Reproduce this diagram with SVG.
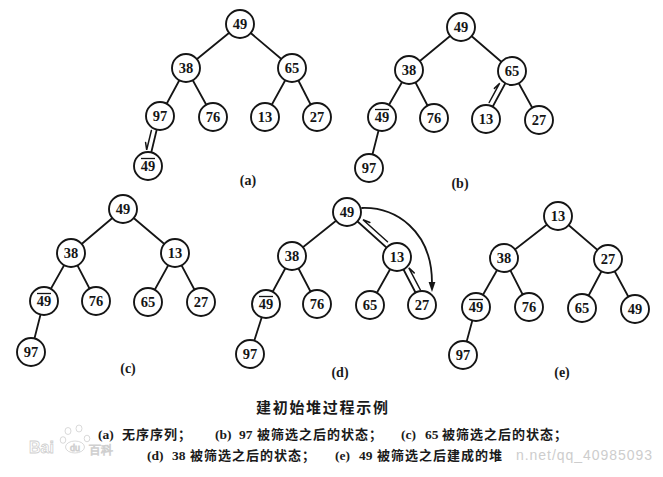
<svg xmlns="http://www.w3.org/2000/svg" width="663" height="477" viewBox="0 0 663 477">
<style>
.bg{fill:#ffffff}
.edge{stroke:#151515;stroke-width:1.8;fill:none;stroke-linecap:round}
.harp{stroke:#151515;stroke-width:1.5;fill:none;stroke-linecap:round}
.node circle{fill:#ffffff;stroke:#151515;stroke-width:1.9}
.node text{font-family:"Liberation Serif","DejaVu Serif",serif;font-weight:bold;font-size:14.5px;text-anchor:middle;fill:#151515}
.bar{stroke:#151515;stroke-width:1.3}
.lbl{font-family:"Liberation Serif","DejaVu Serif",serif;font-weight:bold;font-size:14px;text-anchor:middle;fill:#1a1a1a}
.title{font-family:"Noto Sans CJK SC","Noto Sans CJK JP",sans-serif;font-weight:bold;font-size:15px;letter-spacing:1.7px;fill:#1a1a1a}
.cap{font-family:"Liberation Serif","Noto Sans CJK SC",serif;font-weight:bold;font-size:13.5px;fill:#1a1a1a}
.cjk{font-family:"Noto Sans CJK SC","Noto Sans CJK JP",sans-serif;font-weight:bold;font-size:13px;letter-spacing:1px}
.wm{font-family:"Liberation Sans","DejaVu Sans",sans-serif;fill:none;stroke:#cfcfcf;stroke-width:0.8}
.wm2{font-family:"Liberation Sans","DejaVu Sans",sans-serif;font-size:14px;fill:#cdcdcd}
</style>
<rect class="bg" x="0" y="0" width="663" height="477"/>

<g id="watermark-baidu">
<text class="wm" x="29" y="453" font-size="16" font-weight="bold">Bai</text>
<ellipse class="wm" cx="68" cy="431" rx="3" ry="3.5"/>
<ellipse class="wm" cx="79" cy="428.5" rx="3" ry="3.5"/>
<ellipse class="wm" cx="63" cy="440" rx="2.8" ry="3.3"/>
<ellipse class="wm" cx="87" cy="438.5" rx="2.8" ry="3.3"/>
<ellipse class="wm" cx="75" cy="447" rx="9.5" ry="6"/>
<text class="wm" x="75" y="450.5" font-size="9" text-anchor="middle">du</text>
<text class="wm" x="89" y="454" font-size="12" font-family="Noto Sans CJK SC,sans-serif">百科</text>
</g>

<g id="connectors">
<!-- (a) -->
<line class="edge" x1="240" y1="24" x2="186" y2="68"/>
<line class="edge" x1="240" y1="24" x2="292" y2="68"/>
<line class="edge" x1="186" y1="68" x2="160" y2="116"/>
<line class="edge" x1="186" y1="68" x2="213" y2="117"/>
<line class="edge" x1="292" y1="68" x2="265" y2="117"/>
<line class="edge" x1="292" y1="68" x2="317" y2="117"/>
<line class="edge" x1="160" y1="116" x2="148" y2="166"/>
<path class="harp" d="M151.4,130.4 L146.7,149.8 L145.6,142.6"/>
<!-- (b) -->
<line class="edge" x1="461" y1="27" x2="409" y2="70"/>
<line class="edge" x1="461" y1="27" x2="512" y2="71"/>
<line class="edge" x1="409" y1="70" x2="382" y2="117"/>
<line class="edge" x1="409" y1="70" x2="434" y2="118"/>
<line class="edge" x1="512" y1="71" x2="486" y2="119"/>
<line class="edge" x1="512" y1="71" x2="539" y2="120"/>
<line class="edge" x1="382" y1="117" x2="369" y2="168"/>
<path class="harp" d="M489.2,102.5 L499.7,83.2 L494.4,88.4"/>
<!-- (c) -->
<line class="edge" x1="123" y1="209" x2="71" y2="253"/>
<line class="edge" x1="123" y1="209" x2="175" y2="253"/>
<line class="edge" x1="71" y1="253" x2="44" y2="301"/>
<line class="edge" x1="71" y1="253" x2="96" y2="301"/>
<line class="edge" x1="175" y1="253" x2="148" y2="302"/>
<line class="edge" x1="175" y1="253" x2="201" y2="302"/>
<line class="edge" x1="44" y1="301" x2="31" y2="352"/>
<!-- (d) -->
<line class="edge" x1="347" y1="212" x2="292" y2="256"/>
<line class="edge" x1="347" y1="212" x2="397" y2="257"/>
<line class="edge" x1="292" y1="256" x2="266" y2="304"/>
<line class="edge" x1="292" y1="256" x2="317" y2="304"/>
<line class="edge" x1="397" y1="257" x2="370" y2="305"/>
<line class="edge" x1="397" y1="257" x2="422" y2="305"/>
<line class="edge" x1="266" y1="304" x2="250" y2="354"/>
<path class="harp" d="M387.5,241.8 L363,219.7 L369.9,222.5"/>
<path class="harp" d="M420.4,290 L408.8,267.8 L414.2,272.9"/>
<path class="edge" d="M362,208 C395,207 432,230 432,283"/>
<polygon points="432,292 428.6,282 435.4,282" fill="#151515"/>
<!-- (e) -->
<line class="edge" x1="558" y1="216" x2="504" y2="258"/>
<line class="edge" x1="558" y1="216" x2="608" y2="259"/>
<line class="edge" x1="504" y1="258" x2="476" y2="307"/>
<line class="edge" x1="504" y1="258" x2="529" y2="307"/>
<line class="edge" x1="608" y1="259" x2="582" y2="308"/>
<line class="edge" x1="608" y1="259" x2="635" y2="309"/>
<line class="edge" x1="476" y1="307" x2="463" y2="355"/>
</g>

<!-- panel (a) -->
<g id="a-49" class="node"><circle cx="240" cy="24" r="14"/><text x="240" y="29">49</text></g>
<g id="a-38" class="node"><circle cx="186" cy="68" r="14"/><text x="186" y="73">38</text></g>
<g id="a-65" class="node"><circle cx="292" cy="68" r="14"/><text x="292" y="73">65</text></g>
<g id="a-97" class="node"><circle cx="160" cy="116" r="14"/><text x="160" y="121">97</text></g>
<g id="a-76" class="node"><circle cx="213" cy="117" r="14"/><text x="213" y="122">76</text></g>
<g id="a-13" class="node"><circle cx="265" cy="117" r="14"/><text x="265" y="122">13</text></g>
<g id="a-27" class="node"><circle cx="317" cy="117" r="14"/><text x="317" y="122">27</text></g>
<g id="a-49bar" class="node"><circle cx="148" cy="166" r="14"/><text x="148" y="171">49</text><line class="bar" x1="141" y1="158.5" x2="155" y2="158.5"/></g>
<text class="lbl" x="248" y="185">(a)</text>

<!-- panel (b) -->
<g id="b-49" class="node"><circle cx="461" cy="27" r="14"/><text x="461" y="32">49</text></g>
<g id="b-38" class="node"><circle cx="409" cy="70" r="14"/><text x="409" y="75">38</text></g>
<g id="b-65" class="node"><circle cx="512" cy="71" r="14"/><text x="512" y="76">65</text></g>
<g id="b-49bar" class="node"><circle cx="382" cy="117" r="14"/><text x="382" y="122">49</text><line class="bar" x1="375" y1="109.5" x2="389" y2="109.5"/></g>
<g id="b-76" class="node"><circle cx="434" cy="118" r="14"/><text x="434" y="123">76</text></g>
<g id="b-13" class="node"><circle cx="486" cy="119" r="14"/><text x="486" y="124">13</text></g>
<g id="b-27" class="node"><circle cx="539" cy="120" r="14"/><text x="539" y="125">27</text></g>
<g id="b-97" class="node"><circle cx="369" cy="168" r="14"/><text x="369" y="173">97</text></g>
<text class="lbl" x="460" y="188">(b)</text>

<!-- panel (c) -->
<g id="c-49" class="node"><circle cx="123" cy="209" r="14"/><text x="123" y="214">49</text></g>
<g id="c-38" class="node"><circle cx="71" cy="253" r="14"/><text x="71" y="258">38</text></g>
<g id="c-13" class="node"><circle cx="175" cy="253" r="14"/><text x="175" y="258">13</text></g>
<g id="c-49bar" class="node"><circle cx="44" cy="301" r="14"/><text x="44" y="306">49</text><line class="bar" x1="37" y1="293.5" x2="51" y2="293.5"/></g>
<g id="c-76" class="node"><circle cx="96" cy="301" r="14"/><text x="96" y="306">76</text></g>
<g id="c-65" class="node"><circle cx="148" cy="302" r="14"/><text x="148" y="307">65</text></g>
<g id="c-27" class="node"><circle cx="201" cy="302" r="14"/><text x="201" y="307">27</text></g>
<g id="c-97" class="node"><circle cx="31" cy="352" r="14"/><text x="31" y="357">97</text></g>
<text class="lbl" x="128" y="373">(c)</text>

<!-- panel (d) -->
<g id="d-49" class="node"><circle cx="347" cy="212" r="14"/><text x="347" y="217">49</text></g>
<g id="d-38" class="node"><circle cx="292" cy="256" r="14"/><text x="292" y="261">38</text></g>
<g id="d-13" class="node"><circle cx="397" cy="257" r="14"/><text x="397" y="262">13</text></g>
<g id="d-49bar" class="node"><circle cx="266" cy="304" r="14"/><text x="266" y="309">49</text><line class="bar" x1="259" y1="296.5" x2="273" y2="296.5"/></g>
<g id="d-76" class="node"><circle cx="317" cy="304" r="14"/><text x="317" y="309">76</text></g>
<g id="d-65" class="node"><circle cx="370" cy="305" r="14"/><text x="370" y="310">65</text></g>
<g id="d-27" class="node"><circle cx="422" cy="305" r="14"/><text x="422" y="310">27</text></g>
<g id="d-97" class="node"><circle cx="250" cy="354" r="14"/><text x="250" y="359">97</text></g>
<text class="lbl" x="340" y="377">(d)</text>

<!-- panel (e) -->
<g id="e-13" class="node"><circle cx="558" cy="216" r="14"/><text x="558" y="221">13</text></g>
<g id="e-38" class="node"><circle cx="504" cy="258" r="14"/><text x="504" y="263">38</text></g>
<g id="e-27" class="node"><circle cx="608" cy="259" r="14"/><text x="608" y="264">27</text></g>
<g id="e-49bar" class="node"><circle cx="476" cy="307" r="14"/><text x="476" y="312">49</text><line class="bar" x1="469" y1="299.5" x2="483" y2="299.5"/></g>
<g id="e-76" class="node"><circle cx="529" cy="307" r="14"/><text x="529" y="312">76</text></g>
<g id="e-65" class="node"><circle cx="582" cy="308" r="14"/><text x="582" y="313">65</text></g>
<g id="e-49" class="node"><circle cx="635" cy="309" r="14"/><text x="635" y="314">49</text></g>
<g id="e-97" class="node"><circle cx="463" cy="355" r="14"/><text x="463" y="360">97</text></g>
<text class="lbl" x="562" y="377">(e)</text>

<g id="caption">
<text class="title" x="256" y="413">建初始堆过程示例</text>
<text class="cap" y="438.5"><tspan x="98">(a)</tspan><tspan class="cjk" x="122">无序序列；</tspan><tspan x="215">(b)</tspan><tspan x="239">97</tspan><tspan class="cjk" x="257">被筛选之后的状态；</tspan><tspan x="401">(c)</tspan><tspan x="425">65</tspan><tspan class="cjk" x="442">被筛选之后的状态；</tspan></text>
<text class="cap" y="460"><tspan x="147">(d)</tspan><tspan x="172">38</tspan><tspan class="cjk" x="190">被筛选之后的状态；</tspan><tspan x="335">(e)</tspan><tspan x="359">49</tspan><tspan class="cjk" x="377" letter-spacing="2">被筛选之后建成的堆</tspan></text>
</g>

<text class="wm2" x="516" y="460" textLength="136" lengthAdjust="spacing">n.net/qq_40985093</text>
</svg>
